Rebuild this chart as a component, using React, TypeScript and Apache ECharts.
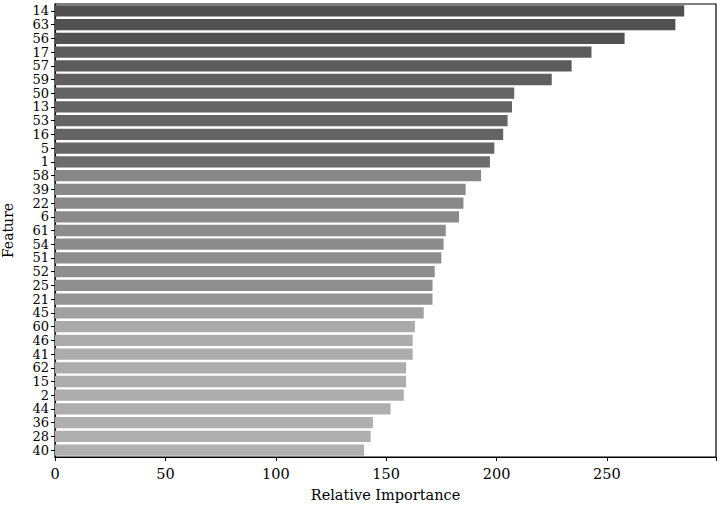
import React, { useEffect, useRef } from "react";
import * as echarts from "echarts";

const features = ["14","63","56","17","57","59","50","13","53","16","5","1","58","39","22","6","61","54","51","52","25","21","45","60","46","41","62","15","2","44","36","28","40"];
const importance = [285,281,258,243,234,225,208,207,205,203,199,197,193,186,185,183,177,176,175,172,171,171,167,163,162,162,159,159,158,152,144,143,140];
const barColors = ["#505050","#505050","#525252","#5c5c5c","#5c5c5c","#5f5f5f","#636363","#636363","#646464","#646464","#666666","#6c6c6c","#878787","#898989","#898989","#8a8a8a","#8c8c8c","#8c8c8c","#8d8d8d","#8e8e8e","#8f8f8f","#959595","#a0a0a0","#aaaaaa","#acacac","#acacac","#adadad","#adadad","#adadad","#aeaeae","#afafaf","#afafaf","#b0b0b0"];
const xTicks = [0, 50, 100, 150, 200, 250];

const FONT = "DejaVu Serif";
const FS = 14.5;

export default function App() {
  const ref = useRef<HTMLDivElement>(null);
  useEffect(() => {
    if (!ref.current) return;
    const chart = echarts.init(ref.current, null, { renderer: "svg" });
    chart.setOption({
      animation: false,
      grid: {
        left: 55, right: 5, top: 4, bottom: 49,
        show: true, borderColor: "#000", borderWidth: 1.2, backgroundColor: "transparent",
        containLabel: false, outerBoundsMode: "none",
      },
      xAxis: {
        type: "value",
        min: 0,
        max: 299.4,
        interval: 50,
        name: "Relative Importance",
        nameLocation: "middle",
        nameGap: 30,
        nameTextStyle: { fontFamily: FONT, fontSize: FS, color: "#000" },
        axisLine: { show: true, onZero: false, lineStyle: { color: "#000", width: 1.2 } },
        axisTick: { show: true, length: 4, lineStyle: { color: "#000" } },
        axisLabel: {
          fontFamily: FONT, fontSize: FS, color: "#000", margin: 9,
          formatter: (v: number) => (xTicks.includes(v) ? String(v) : ""),
        },
        splitLine: { show: false },
      },
      yAxis: {
        type: "category",
        data: features,
        inverse: true,
        name: "Feature",
        nameLocation: "middle",
        nameGap: 40,
        nameRotate: 90,
        nameTextStyle: { fontFamily: FONT, fontSize: 14, color: "#000" },
        axisLine: { show: true, lineStyle: { color: "#000", width: 1.2 } },
        axisTick: { show: true, alignWithLabel: true, length: 4, lineStyle: { color: "#000" } },
        axisLabel: { fontFamily: FONT, fontSize: 13, color: "#000", margin: 6, interval: 0, lineHeight: 13 },
      },
      series: [
        {
          type: "bar",
          data: importance.map((v, i) => ({ value: v, itemStyle: { color: barColors[i] } })),
          barCategoryGap: "18%",
        },
      ],
    });
    return () => chart.dispose();
  }, []);
  return <div ref={ref} style={{ width: 721, height: 506, position: "absolute", left: 0, top: 0 }} />;
}
